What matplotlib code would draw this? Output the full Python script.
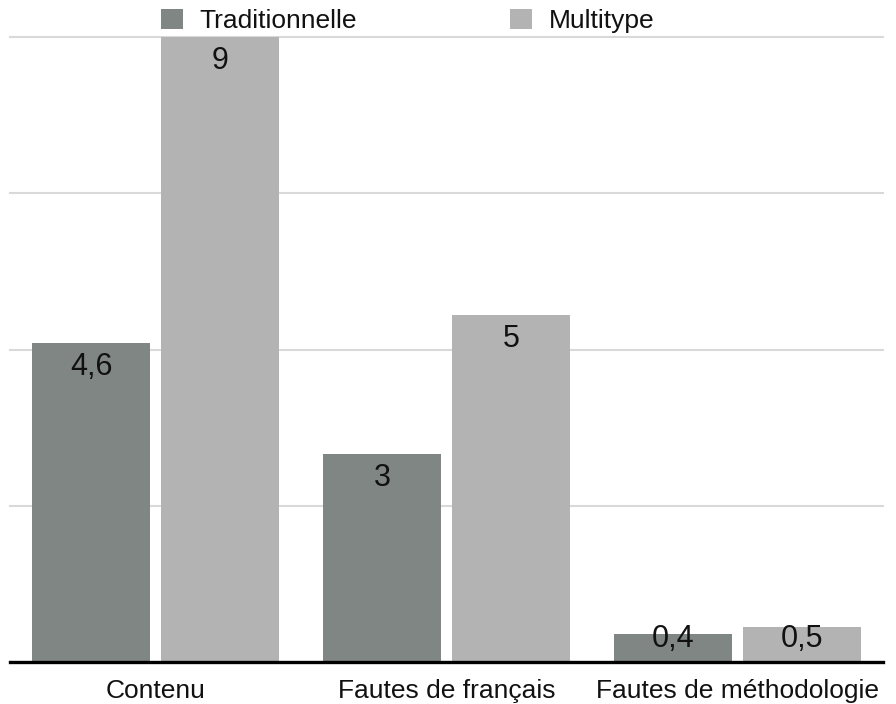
import matplotlib
matplotlib.use("Agg")
import matplotlib.pyplot as plt
import numpy as np
from matplotlib.patches import Patch

plt.rcParams['font.family'] = ['Liberation Sans', 'DejaVu Sans']

categories = ["Contenu", "Fautes de français", "Fautes de méthodologie"]
series_names = ["Traditionnelle", "Multitype"]
traditionnelle = [4.6, 3, 0.4]
multitype = [9, 5, 0.5]
value_labels_trad = ["4,6", "3", "0,4"]
value_labels_multi = ["9", "5", "0,5"]

colors = ["#808683", "#b3b3b3"]

fig = plt.figure(figsize=(8.96, 7.04), dpi=100)
ax = fig.add_axes([10 / 896, 42 / 704, 873 / 896, 625 / 704])

x = np.arange(len(categories))
width = 0.405
offset = 0.2215

# labels sit just below each bar top, but never lower than a minimum height
label_drop = 0.35
label_floor = 0.33

for vals, labels, color, shift in [
    (traditionnelle, value_labels_trad, colors[0], -offset),
    (multitype, value_labels_multi, colors[1], offset),
]:
    bars = ax.bar(x + shift, vals, width=width, color=color, zorder=2)
    for rect, lab, v in zip(bars, labels, vals):
        ypos = max(v - label_drop, label_floor)
        ax.text(rect.get_x() + rect.get_width() / 2, ypos, lab,
                ha="center", va="center", fontsize=22, color="#111111",
                zorder=3)

ax.set_xlim(-0.5, 2.5)
ax.set_ylim(0, 9)
ax.set_yticks([0, 2.25, 4.5, 6.75, 9])
ax.yaxis.grid(True, color="#d9d9d9", linewidth=1.5, zorder=0)
ax.tick_params(axis="y", left=False, labelleft=False)
ax.set_xticks(x)
ax.set_xticklabels(categories, fontsize=19, color="#111111")
ax.tick_params(axis="x", length=0, pad=12)
for side in ["top", "left", "right"]:
    ax.spines[side].set_visible(False)
ax.spines["bottom"].set_linewidth(2.4)
ax.spines["bottom"].set_color("#000000")
ax.spines["bottom"].set_zorder(4)
for gl in ax.yaxis.get_gridlines():
    gl.set_clip_on(False)

handles = [Patch(facecolor=c, edgecolor="none") for c in colors]
leg = fig.legend(handles, series_names, loc="center left",
                 bbox_to_anchor=(161 / 896, 1 - 21 / 704), ncol=2, frameon=False,
                 fontsize=19, handlelength=0.83, handleheight=0.83,
                 handletextpad=0.64, columnspacing=5.8, borderaxespad=0,
                 borderpad=0)
for t in leg.get_texts():
    t.set_color("#111111")

fig.savefig("out.png", dpi=100, facecolor="white")
